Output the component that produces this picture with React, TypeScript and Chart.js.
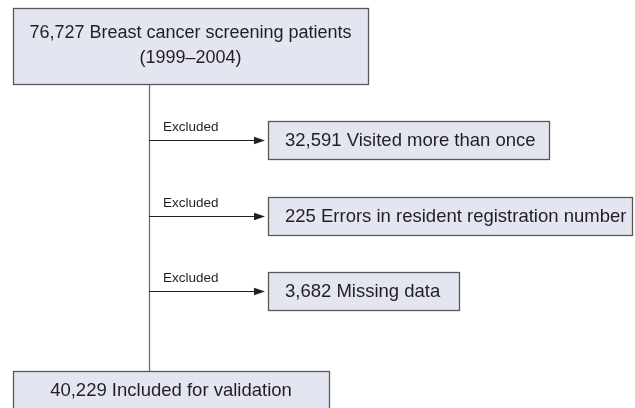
import React, { useEffect, useRef } from "react";
import { Chart, registerables } from "chart.js";

Chart.register(...registerables);

// ---- data ----
const totalCount = 76727;
const totalLabel = "Breast cancer screening patients";
const totalPeriod = "(1999–2004)";
const excludedCounts = [32591, 225, 3682];
const excludedLabels = ["Visited more than once", "Errors in resident registration number", "Missing data"];
const includedCount = 40229;
const includedLabel = "Included for validation";
const arrowLabel = "Excluded";

const fmt = (n: number) => n.toLocaleString("en-US");

// ---- layout (in scale units, 0..635 x 0..408) ----
const TOP_BOX = { x0: 13, x1: 368, y0: 8, y1: 84 };
const BOTTOM_BOX = { x0: 13, x1: 329, y0: 371, y1: 420 };
const SPINE_X = 149;
const EXCL_BOXES = [
  { x0: 268, x1: 549, y0: 121, y1: 159 },
  { x0: 268, x1: 632, y0: 197, y1: 235 },
  { x0: 268, x1: 459, y0: 272, y1: 310 },
];

const FILL = "#e3e5f1";
const BORDER = "#58585a";
const LINE = "#6d6e71";
const TEXT = "#231f20";
const FONT = "'Liberation Sans', Arial, Helvetica, sans-serif";

const flowPlugin = {
  id: "flow",
  afterDraw(chart: any) {
    const ctx = chart.ctx as CanvasRenderingContext2D;
    const xs = chart.scales.x;
    const ys = chart.scales.y;
    const px = (v: number) => xs.getPixelForValue(v);
    const py = (v: number) => ys.getPixelForValue(v);

    const box = (b: { x0: number; x1: number; y0: number; y1: number }) => {
      const x = Math.round(px(b.x0)) + 0.5;
      const y = Math.round(py(b.y0)) + 0.5;
      const w = Math.round(px(b.x1) - px(b.x0));
      const h = Math.round(py(b.y1) - py(b.y0));
      ctx.fillStyle = FILL;
      ctx.fillRect(x, y, w, h);
      ctx.strokeStyle = BORDER;
      ctx.lineWidth = 1.3;
      ctx.strokeRect(x, y, w, h);
    };

    ctx.save();
    // spine
    ctx.strokeStyle = LINE;
    ctx.lineWidth = 1.3;
    ctx.beginPath();
    ctx.moveTo(Math.round(px(SPINE_X)) + 0.5, py(TOP_BOX.y1));
    ctx.lineTo(Math.round(px(SPINE_X)) + 0.5, py(BOTTOM_BOX.y0));
    ctx.stroke();

    // boxes
    box(TOP_BOX);
    box(BOTTOM_BOX);
    EXCL_BOXES.forEach(box);

    ctx.fillStyle = TEXT;
    ctx.textAlign = "center";
    ctx.textBaseline = "middle";
    ctx.font = `18px ${FONT}`;
    const tcx = px((TOP_BOX.x0 + TOP_BOX.x1) / 2);
    const tcy = py((TOP_BOX.y0 + TOP_BOX.y1) / 2);
    ctx.fillText(`${fmt(totalCount)} ${totalLabel}`, tcx, tcy - 12.5);
    ctx.fillText(totalPeriod, tcx, tcy + 12.5);

    ctx.font = `18.5px ${FONT}`;
    ctx.fillText(
      `${fmt(includedCount)} ${includedLabel}`,
      px((BOTTOM_BOX.x0 + BOTTOM_BOX.x1) / 2),
      py(BOTTOM_BOX.y0 + 20)
    );

    EXCL_BOXES.forEach((b, i) => {
      const cy = py((b.y0 + b.y1) / 2);
      // arrow
      ctx.strokeStyle = "#231f20";
      ctx.lineWidth = 1;
      const ay = Math.round(cy) + 0.5;
      const ax0 = px(SPINE_X);
      const ax1 = px(b.x0) - 3;
      ctx.beginPath();
      ctx.moveTo(ax0, ay);
      ctx.lineTo(ax1 - 8, ay);
      ctx.stroke();
      ctx.fillStyle = "#231f20";
      ctx.beginPath();
      ctx.moveTo(ax1, ay);
      ctx.lineTo(ax1 - 11, ay - 3.8);
      ctx.lineTo(ax1 - 11, ay + 3.8);
      ctx.closePath();
      ctx.fill();
      // label above arrow
      ctx.fillStyle = TEXT;
      ctx.font = `13.5px ${FONT}`;
      ctx.textAlign = "left";
      ctx.fillText(arrowLabel, px(SPINE_X + 14), ay - 13.5);
      // box text
      ctx.font = `18.5px ${FONT}`;
      ctx.textAlign = "left";
      ctx.fillText(`${fmt(excludedCounts[i])} ${excludedLabels[i]}`, px(b.x0 + 17), cy + 1);
      ctx.textAlign = "center";
    });
    ctx.restore();
  },
};

export default function App() {
  const ref = useRef<HTMLCanvasElement | null>(null);
  useEffect(() => {
    if (!ref.current) return;
    const chart = new Chart(ref.current, {
      type: "scatter",
      data: { datasets: [{ data: [], pointRadius: 0 }] },
      options: {
        animation: false,
        responsive: true,
        maintainAspectRatio: false,
        layout: { padding: 0 },
        plugins: { legend: { display: false }, tooltip: { enabled: false } },
        scales: {
          x: { type: "linear", min: 0, max: 635, display: false },
          y: { type: "linear", min: 0, max: 408, reverse: true, display: false },
        },
      },
      plugins: [flowPlugin],
    });
    return () => chart.destroy();
  }, []);
  return (
    <div style={{ position: "fixed", left: 0, top: 0, width: 635, height: 408, background: "#fff" }}>
      <canvas ref={ref} />
    </div>
  );
}
